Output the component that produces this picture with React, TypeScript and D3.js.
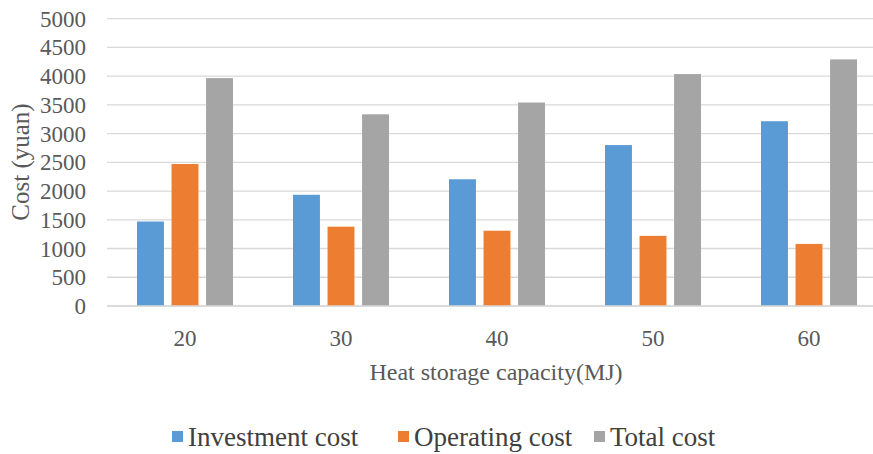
import * as d3 from "d3";
import { useEffect, useRef } from "react";

const categories = ["20", "30", "40", "50", "60"];
const seriesNames = ["Investment cost", "Operating cost", "Total cost"];
const investment = [1470, 1935, 2205, 2800, 3215];
const operating = [2470, 1380, 1310, 1220, 1080];
const total = [3965, 3335, 3540, 4035, 4290];
const yTicks = [0, 500, 1000, 1500, 2000, 2500, 3000, 3500, 4000, 4500, 5000];
const colors = ["#5b9bd5", "#ed7d31", "#a5a5a5"];

const width = 873;
const height = 454;
const font = "'Liberation Serif', 'Times New Roman', serif";
const textColor = "#595959";

export default function App() {
    const svgRef = useRef(null);

    useEffect(() => {
        const svg = d3.select(svgRef.current);
        svg.selectAll("*").remove();

        const values = [investment, operating, total];

        const x0 = d3.scaleBand(categories, [107, 887]);
        const x1 = d3.scaleBand(seriesNames, [30, 126]).paddingInner(0.22);
        const y = d3.scaleLinear([0, 5000], [306, 18.6]);

        // gridlines
        svg.append("g")
            .selectAll("line")
            .data(yTicks)
            .join("line")
            .attr("x1", 107)
            .attr("x2", width)
            .attr("y1", d => y(d))
            .attr("y2", d => y(d))
            .attr("stroke", "#d9d9d9")
            .attr("stroke-width", 1.3);

        // y tick labels
        svg.append("g")
            .selectAll("text")
            .data(yTicks)
            .join("text")
            .attr("x", 86)
            .attr("y", d => y(d))
            .attr("dy", "0.35em")
            .attr("text-anchor", "end")
            .attr("font-family", font)
            .attr("font-size", 23)
            .attr("fill", textColor)
            .text(d => d);

        // bars
        const groups = svg.append("g")
            .selectAll("g")
            .data(categories)
            .join("g")
            .attr("transform", d => `translate(${x0(d)},0)`);

        groups.selectAll("rect")
            .data((d, i) => seriesNames.map((s, j) => ({ s, v: values[j][i], j })))
            .join("rect")
            .attr("x", d => x1(d.s))
            .attr("width", x1.bandwidth())
            .attr("y", d => y(d.v))
            .attr("height", d => y(0) - y(d.v))
            .attr("fill", d => colors[d.j]);

        // x axis line
        svg.append("line")
            .attr("x1", 107)
            .attr("x2", width)
            .attr("y1", y(0))
            .attr("y2", y(0))
            .attr("stroke", "#d9d9d9")
            .attr("stroke-width", 1.3);

        // x tick labels
        svg.append("g")
            .selectAll("text")
            .data(categories)
            .join("text")
            .attr("x", d => x0(d) + x0.bandwidth() / 2)
            .attr("y", 346)
            .attr("text-anchor", "middle")
            .attr("font-family", font)
            .attr("font-size", 23)
            .attr("fill", textColor)
            .text(d => d);

        // axis titles
        svg.append("text")
            .attr("x", 496)
            .attr("y", 380)
            .attr("text-anchor", "middle")
            .attr("font-family", font)
            .attr("font-size", 24)
            .attr("fill", textColor)
            .text("Heat storage capacity(MJ)");

        svg.append("text")
            .attr("transform", "translate(29,162) rotate(-90)")
            .attr("text-anchor", "middle")
            .attr("font-family", font)
            .attr("font-size", 25)
            .attr("fill", textColor)
            .text("Cost (yuan)");

        // legend
        const legendX = [172, 398, 594];
        const legend = svg.append("g")
            .selectAll("g")
            .data(seriesNames)
            .join("g")
            .attr("transform", (d, i) => `translate(${legendX[i]},437)`);

        legend.append("rect")
            .attr("x", 0)
            .attr("y", -6)
            .attr("width", 11)
            .attr("height", 11)
            .attr("fill", (d, i) => colors[i]);

        legend.append("text")
            .attr("x", 16)
            .attr("y", 0)
            .attr("dy", "0.35em")
            .attr("font-family", font)
            .attr("font-size", 27)
            .attr("fill", "#404040")
            .text(d => d);
    }, []);

    return (
        <svg
            ref={svgRef}
            width={width}
            height={height}
            style={{ position: "absolute", left: 0, top: 0, background: "#fff" }}
        />
    );
}
